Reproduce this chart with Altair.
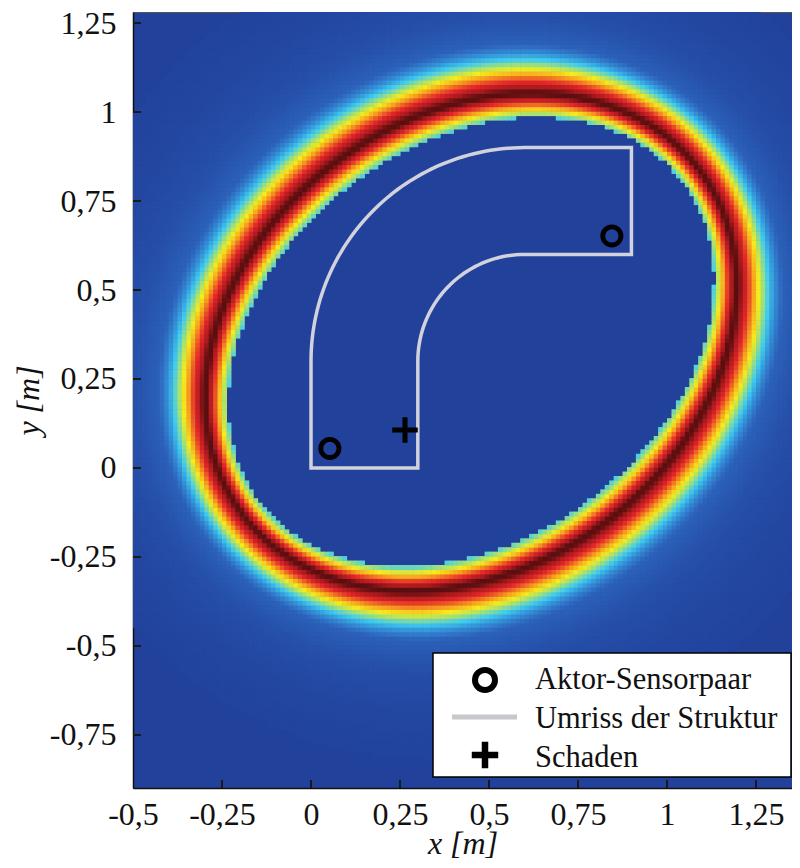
import numpy as np
import pandas as pd
import altair as alt

# ---- axes (metres) ----
X_DOMAIN = [-0.5, 1.351]
Y_DOMAIN = [-0.899, 1.281]
X_TICKS = [-0.5, -0.25, 0, 0.25, 0.5, 0.75, 1, 1.25]
Y_TICKS = [-0.75, -0.5, -0.25, 0, 0.25, 0.5, 0.75, 1, 1.25]

# ---- actor-sensor pair (ellipse foci) and damage ----
SENSOR_X = [0.053, 0.845]
SENSOR_Y = [0.055, 0.652]
DAMAGE_X = [0.264]
DAMAGE_Y = [0.107]

# ---- ring (envelope of the scattered wave) ----
RING_PATH_SUM = 1.605     # d1 + d2 at the ring maximum
RING_INNER_WIDTH = 0.12
RING_OUTER_WIDTH = 0.17
RING_INNER_CUT = 0.115
HALO_LEVEL = 0.3
HALO_DECAY = 0.27
GRID_STEP = 0.0125

# ---- structure outline (bent plate) ----
OUTLINE_STRAIGHT_1 = [(0.0, 0.3), (0.0, 0.0), (0.3, 0.0), (0.3, 0.3)]
ARC_CENTER = (0.6, 0.3)
ARC_INNER_R = 0.3
ARC_OUTER_R = 0.6
OUTLINE_STRAIGHT_2 = [(0.6, 0.6), (0.9, 0.6), (0.9, 0.9), (0.6, 0.9)]

# ---- colour map (printed jet) ----
CMAP_STOPS = [0, 0.07, 0.15, 0.26, 0.375, 0.5, 0.625, 0.75, 0.9, 0.97, 1.0]
CMAP_COLORS = ["#21419b", "#2650aa", "#2f6cc2", "#3597da", "#3fcdf0",
               "#9fe07a", "#f6ec1b", "#f7a11e", "#e4232a", "#a81a1c", "#5a0e0f"]

LEGEND_LABELS = ["Aktor-Sensorpaar", "Umriss der Struktur", "Schaden"]

# ---------------- build heat map field ----------------
xs = np.arange(X_DOMAIN[0] - GRID_STEP, X_DOMAIN[1], GRID_STEP)
ys = np.arange(Y_DOMAIN[0] - GRID_STEP, Y_DOMAIN[1], GRID_STEP)
XX, YY = np.meshgrid(xs, ys)
cx, cy = XX + GRID_STEP / 2, YY + GRID_STEP / 2
d1 = np.hypot(cx - SENSOR_X[0], cy - SENSOR_Y[0])
d2 = np.hypot(cx - SENSOR_X[1], cy - SENSOR_Y[1])
delta = d1 + d2 - RING_PATH_SUM
inner = np.exp(-(delta / RING_INNER_WIDTH) ** 2)
inner[delta < -RING_INNER_CUT] = 0.0
outer = np.maximum(np.exp(-(delta / RING_OUTER_WIDTH) ** 2),
                   HALO_LEVEL * np.exp(-np.clip(delta, 0, None) / HALO_DECAY))
val = np.where(delta < 0, inner, outer)
mask = val >= 0.012
heat = pd.DataFrame({"x": np.round(XX[mask], 4), "y": np.round(YY[mask], 4),
                     "v": np.round(val[mask], 3)})

# ---------------- outline path ----------------
pts = list(OUTLINE_STRAIGHT_1)
for a in np.linspace(np.pi, np.pi / 2, 40)[1:-1]:
    pts.append((ARC_CENTER[0] + ARC_INNER_R * np.cos(a), ARC_CENTER[1] + ARC_INNER_R * np.sin(a)))
pts += OUTLINE_STRAIGHT_2
for a in np.linspace(np.pi / 2, np.pi, 60)[1:]:
    pts.append((ARC_CENTER[0] + ARC_OUTER_R * np.cos(a), ARC_CENTER[1] + ARC_OUTER_R * np.sin(a)))
outline = pd.DataFrame({"x": [p[0] for p in pts], "y": [p[1] for p in pts],
                        "i": list(range(len(pts)))})

sensors = pd.DataFrame({"x": SENSOR_X, "y": SENSOR_Y})
damage = pd.DataFrame({"x": DAMAGE_X, "y": DAMAGE_Y})
xt = pd.DataFrame({"x": X_TICKS[1:]})
yt = pd.DataFrame({"y": Y_TICKS})
one = pd.DataFrame({"k": [0]})

W, H = 659, 776
TOP = 4
FONT = "Liberation Serif"
LBL = "replace(toString(datum.value), '.', ',')"
COMMON_AX = dict(labelExpr=LBL, labelFont=FONT, labelFontSize=32, labelColor="#111111",
                 labelFlush=False, labelOverlap=False, labelBound=False,
                 titleFont=FONT, titleFontSize=32, titleFontStyle="italic",
                 titleFontWeight="normal", titleColor="#111111",
                 domainColor="#111111", domainWidth=1.5, ticks=False, grid=False,
                 titleBaseline="alphabetic")
XAXIS = alt.Axis(values=X_TICKS, title="x [m]", titleY=65, labelPadding=11, **COMMON_AX)
YAXIS = alt.Axis(values=Y_TICKS, title="y [m]", titleX=-95, labelPadding=17, **COMMON_AX)


def X(field="x"):
    return alt.X(f"{field}:Q", scale=alt.Scale(domain=X_DOMAIN, nice=False, zero=False),
                 axis=XAXIS, title="x [m]")


def Y(field="y"):
    return alt.Y(f"{field}:Q", scale=alt.Scale(domain=Y_DOMAIN, nice=False, zero=False),
                 axis=YAXIS, title="y [m]")


heatmap = alt.Chart(heat).transform_calculate(
    x2=f"datum.x + {GRID_STEP * 1.12}", y2=f"datum.y + {GRID_STEP * 1.12}"
).mark_rect(clip=True).encode(
    x=X(), x2="x2:Q", y=Y(), y2="y2:Q",
    color=alt.Color("v:Q", scale=alt.Scale(domain=CMAP_STOPS, range=CMAP_COLORS,
                                           interpolate="rgb"), legend=None),
)

outline_layer = alt.Chart(outline).mark_line(color="#d2d2dc", strokeWidth=3.5, clip=True).encode(
    x=X(), y=Y(), order="i:Q")

sensor_layer = alt.Chart(sensors).mark_point(shape="circle", size=330, filled=False,
                                             color="black", strokeWidth=4.8, opacity=1).encode(
    x=X(), y=Y())

PLUS = "M-1,0H1M0,-1V1"
damage_layer = alt.Chart(damage).mark_point(shape=PLUS, size=650, filled=False,
                                            color="black", strokeWidth=5, opacity=1).encode(
    x=X(), y=Y())

xtick_layer = alt.Chart(xt).mark_rule(color="#1a1a1a", strokeWidth=2).encode(
    x=X(), y=alt.value(H), y2=alt.value(H - 8))
ytick_layer = alt.Chart(yt).mark_rule(color="#1a1a1a", strokeWidth=2).encode(
    y=Y(), x=alt.value(0), x2=alt.value(8))

# legend box (pixel positions inside the plot area)
leg_box = alt.Chart(one).mark_rect(fill="white", stroke="black", strokeWidth=1.5).encode(
    x=alt.value(300), x2=alt.value(658), y=alt.value(645 - TOP), y2=alt.value(769 - TOP))
leg_circle = alt.Chart(one).mark_point(shape="circle", size=400, filled=False, color="black",
                                       strokeWidth=6, opacity=1).encode(
    x=alt.value(352), y=alt.value(672 - TOP))
leg_line = alt.Chart(one).mark_rule(color="#c8c8cc", strokeWidth=5).encode(
    x=alt.value(319), x2=alt.value(384), y=alt.value(709 - TOP))
leg_plus = alt.Chart(one).mark_point(shape=PLUS, size=700, filled=False, color="black",
                                     strokeWidth=6.5, opacity=1).encode(
    x=alt.value(352), y=alt.value(747 - TOP))
leg_texts = [
    alt.Chart(one).mark_text(align="left", baseline="alphabetic", font=FONT, fontSize=30.5,
                             color="#111").encode(
        x=alt.value(402), y=alt.value(yy - TOP), text=alt.value(lbl))
    for lbl, yy in zip(LEGEND_LABELS, [681, 720, 759])
]

chart = alt.layer(heatmap, outline_layer, sensor_layer, damage_layer, xtick_layer, ytick_layer,
                  leg_box, leg_circle, leg_line, leg_plus, *leg_texts).properties(
    width=W, height=H,
    autosize=alt.AutoSizeParams(type="none"),
    padding={"left": 125, "top": TOP, "right": 0, "bottom": 72},
    background="white",
).configure_view(fill=CMAP_COLORS[0], stroke="#555555", strokeWidth=1)

chart.save("out.html", embed_options={"renderer": "svg", "actions": False})
